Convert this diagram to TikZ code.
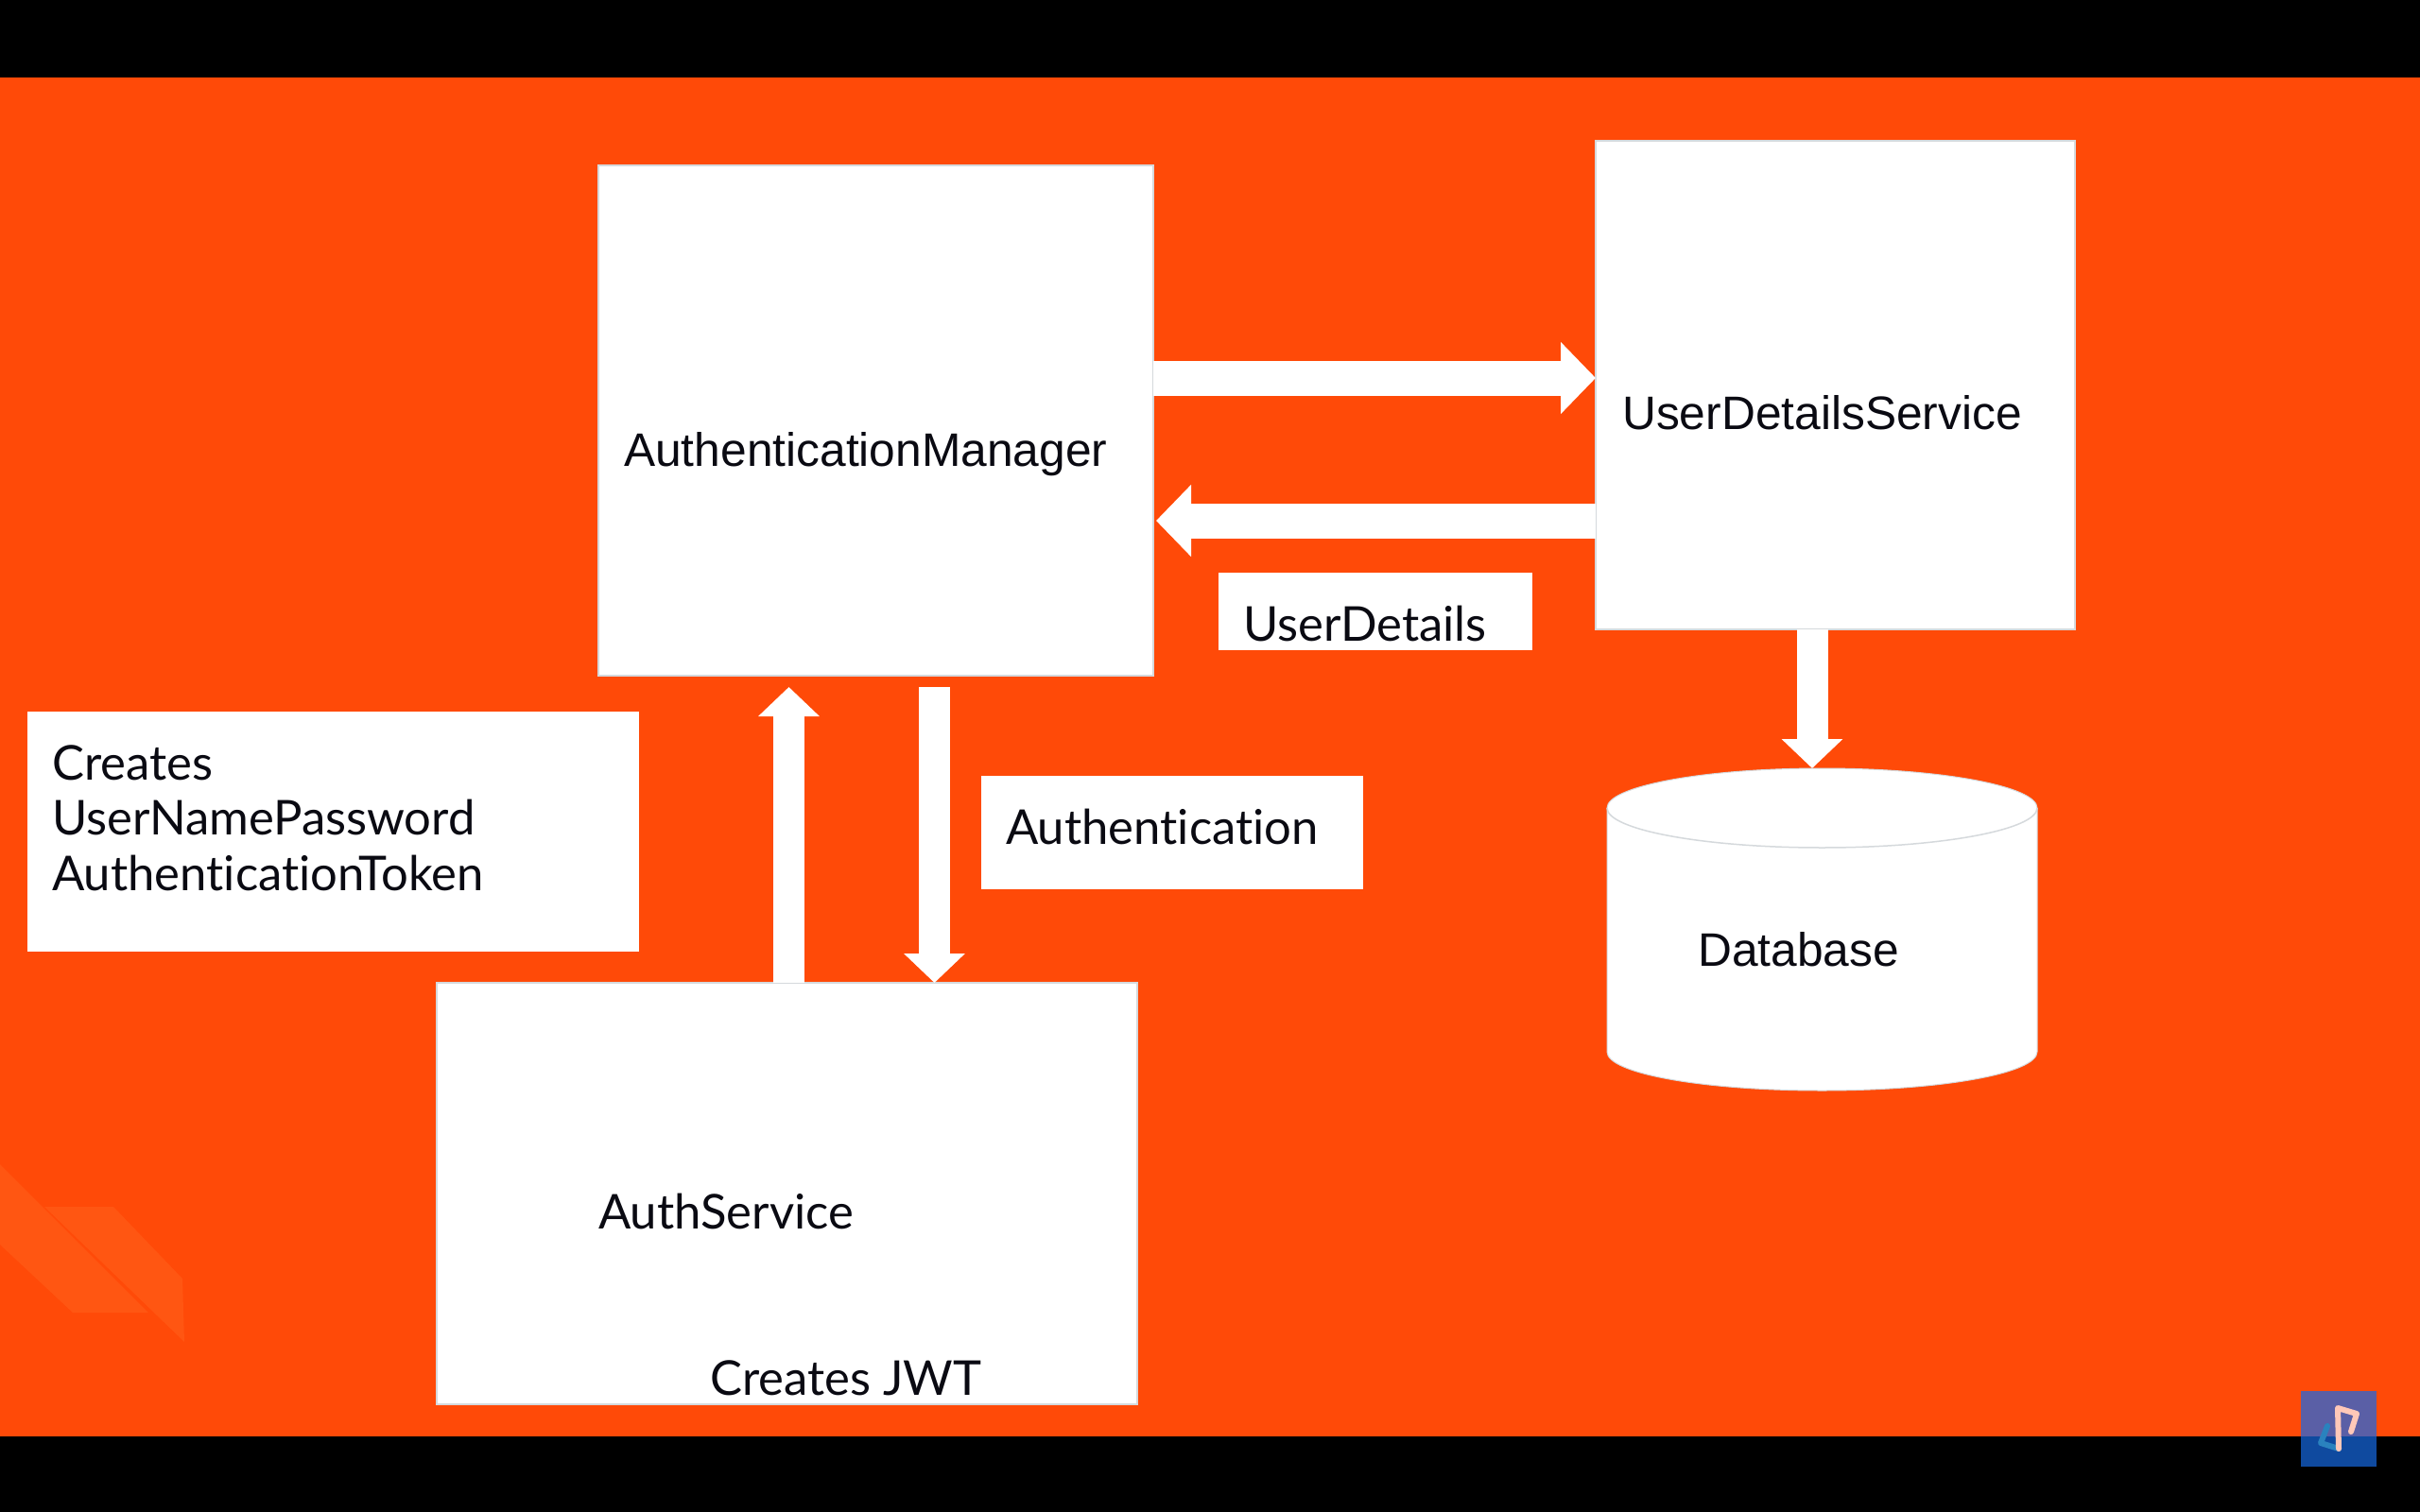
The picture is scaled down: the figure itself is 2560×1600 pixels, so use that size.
\documentclass[tikz,border=0pt]{standalone}
\usepackage{fontspec}
\usetikzlibrary{arrows.meta}
\setmainfont{Liberation Sans}
\newfontfamily\carl[Ligatures={NoCommon}]{Lato}
\definecolor{bgorange}{HTML}{FF4A08}
\definecolor{wmark}{HTML}{FF5612}
\definecolor{edgegray}{HTML}{D5D9DC}
\definecolor{inktext}{HTML}{0A0A12}
\definecolor{logotop}{HTML}{5A5FA6}
\definecolor{logobot}{HTML}{0F4A9F}
\definecolor{logoblue}{HTML}{2A82BE}
\definecolor{logopink}{HTML}{FFC8B8}
\tikzset{
  box/.style={draw=edgegray,line width=1.5pt,fill=white,inner sep=0pt,outer sep=0pt,anchor=north west},
  labelbox/.style={fill=white,inner sep=0pt,outer sep=0pt,anchor=north west},
  arialtxt/.style={anchor=base west,inner sep=0pt,text=inktext,font=\fontsize{49.7}{58}\selectfont},
  carltxt/.style={anchor=base west,inner sep=0pt,text=inktext,font=\carl\fontsize{50.8}{59}\selectfont},
  blockarrow/.style={draw=white,line width=33pt,-{Triangle[length=31pt,width=63pt,fill=white]}},
  blockarrowh/.style={draw=white,line width=37pt,-{Triangle[length=37pt,width=74pt,fill=white]}},
  logostroke/.style={line width=6pt,line cap=round,line join=round},
}
\begin{document}
\begin{tikzpicture}[x=1pt,y=-1pt]
\useasboundingbox (0,0) rectangle (2560,1600);
\fill[black] (0,0) rectangle (2560,1600);
\fill[bgorange] (0,82) rectangle (2560,1520);
% watermark
\fill[wmark] (0,1232) -- (157,1389) -- (77,1389) -- (0,1317) -- cycle;
\fill[wmark] (47,1277) -- (120,1277) -- (193,1353) -- (195,1420) -- cycle;
% logo
\fill[logotop] (2434,1472) rectangle (2514,1520);
\fill[logobot] (2434,1520) rectangle (2514,1552);
\draw[logostroke,logoblue] (2474,1533) -- (2455,1527) -- (2462,1509);
\draw[logostroke,logopink] (2474,1533) -- (2473,1490) -- (2493,1496) -- (2487,1515);
% boxes
\node[box,minimum width=587pt,minimum height=540pt] (am) at (633,175) {};
\node[box,minimum width=507pt,minimum height=517pt] (uds) at (1688,149) {};
\node[box,minimum width=741pt,minimum height=446pt] (as) at (462,1040) {};
\node[labelbox,minimum width=647pt,minimum height=254pt] (cbox) at (29,753) {};
\node[labelbox,minimum width=404pt,minimum height=120pt] (abox) at (1038,821) {};
\node[labelbox,minimum width=332pt,minimum height=82pt] (ubox) at (1288.5,606) {};
% cylinder
\path[fill=white,draw=edgegray,line width=1pt]
  (1700,855) .. controls (1700,832) and (1802,813) .. (1927.5,813)
  .. controls (2053,813) and (2155,832) .. (2155,855)
  -- (2155,1113)
  .. controls (2155,1136) and (2053,1154) .. (1927.5,1154)
  .. controls (1802,1154) and (1700,1136) .. (1700,1113) -- cycle;
\draw[edgegray,line width=1.5pt]
  (1700,855) .. controls (1700,878) and (1802,897) .. (1927.5,897)
  .. controls (2053,897) and (2155,878) .. (2155,855);
\node[inner sep=0pt,outer sep=0pt,minimum width=455pt,minimum height=341pt,anchor=north west] (db) at (1700,813) {};
% connector rows/columns
\coordinate (r1) at (0,400);
\coordinate (r2) at (0,551);
\coordinate (c1) at (1917,0);
\coordinate (c2) at (834.5,0);
\coordinate (c3) at (988.5,0);
\coordinate (amgapu) at (834.5,727);
\coordinate (amgapd) at (988.5,727);
\coordinate (tipl) at (1223,551);
\draw[blockarrowh] (am.east |- r1) -- (uds.west |- r1);
\draw[blockarrowh] (uds.west |- r2) -- (tipl);
\draw[blockarrow] (uds.south -| c1) -- (db.north -| c1);
\draw[blockarrow] (as.north -| c2) -- (amgapu);
\draw[blockarrow] (amgapd) -- (as.north -| c3);
% texts
\node[arialtxt] (tam) at (660,493) {AuthenticationManager};
\node[arialtxt] (tuds) at (1716,454) {UserDetailsService};
\node[arialtxt] (tdb) at (1796,1022) {Database};
\node[carltxt] (tud) at (1315,678) {UserDetails};
\node[carltxt] (tc1) at (55,825) {Creates};
\node[carltxt] (tc2) at (55,883) {UserNamePassword};
\node[carltxt] (tc3) at (55,942) {AuthenticationToken};
\node[carltxt] (tau) at (1064,893) {Authentication};
\node[carltxt] (tas) at (633,1300) {AuthService};
\node[carltxt] (tjwt) at (751,1476) {Creates JWT};
\end{tikzpicture}
\end{document}
